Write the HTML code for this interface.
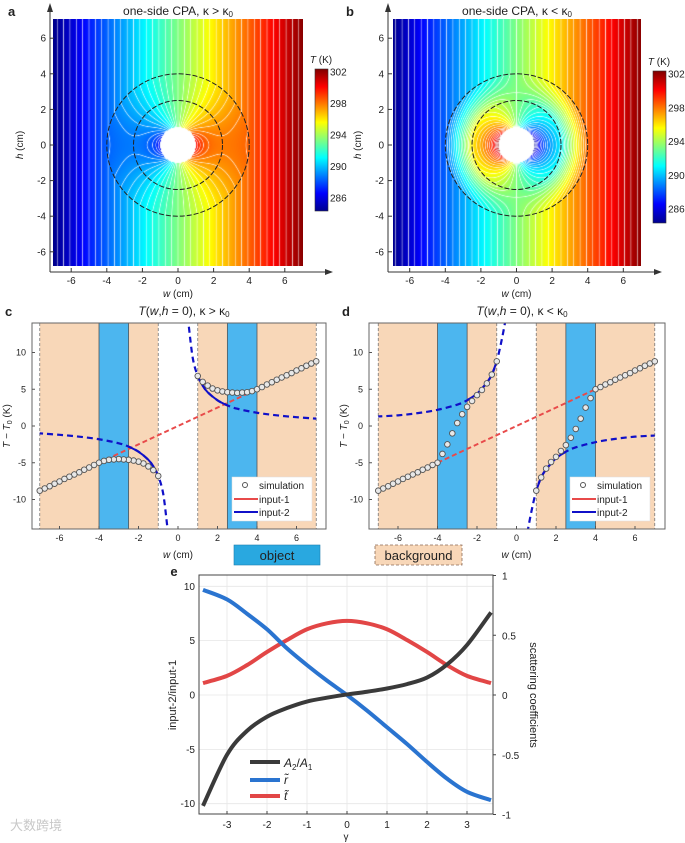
<!DOCTYPE html>
<html><head><meta charset="utf-8"><style>
body{margin:0;background:#fff;width:685px;height:843px;position:relative;overflow:hidden;font-family:"Liberation Sans","Noto Sans CJK SC",sans-serif}
canvas{position:absolute}
svg text{font-family:"Liberation Sans","Noto Sans CJK SC",sans-serif}
</style></head><body>
<canvas id="hmA" width="250" height="247" style="left:53px;top:19px"></canvas>
<canvas id="hmB" width="248" height="247" style="left:393px;top:19px"></canvas>
<svg id="fig" width="685" height="843" style="position:absolute;left:0;top:0">
<defs>
<linearGradient id="jet" x1="0" y1="1" x2="0" y2="0">
<stop offset="0" stop-color="#00008f"/><stop offset="0.125" stop-color="#0000ff"/><stop offset="0.375" stop-color="#00ffff"/><stop offset="0.625" stop-color="#ffff00"/><stop offset="0.875" stop-color="#ff0000"/><stop offset="1" stop-color="#800000"/>
</linearGradient>
</defs>
</svg>
<script>
// ---------- data ----------
const fieldCoefA = [[1.26,0],[0.888,5.95],[0.895,5.9]];
const fieldCoefB = [[1.26,0],[2.734,-23.6],[0.438,-9.24]];
const cbTicks = [302,298,294,290,286];
const mapTicks = [-6,-4,-2,0,2,4,6];
const lineTicksX = [-6,-4,-2,0,2,4,6];
const lineTicksY = [-10,-5,0,5,10];
const simW = [1,1.25,1.5,1.75,2,2.25,2.5,2.75,3,3.25,3.5,3.75,4,4.25,4.5,4.75,5,5.25,5.5,5.75,6,6.25,6.5,6.75,7];
const simC = [6.8,6.0,5.5,5.1,4.85,4.7,4.6,4.55,4.5,4.55,4.6,4.75,5.0,5.3,5.65,5.95,6.3,6.6,6.9,7.2,7.55,7.85,8.2,8.5,8.8];
const simD = [-8.8,-7.0,-5.8,-4.9,-4.2,-3.4,-2.6,-1.6,-0.4,1.0,2.5,3.8,5.0,5.3,5.65,5.95,6.3,6.6,6.9,7.2,7.55,7.85,8.2,8.5,8.8];
const redW = [-7,-4,4,7];
const redV = [-8.8,-5,5,8.8];
const blueW = [0.55,0.75,1,1.25,1.5,2,2.5,3,4,5,6,7];
const blueC = [13.5,9.2,6.8,5.5,4.6,3.5,2.8,2.35,1.8,1.45,1.2,1.0];
const blueD = [-14.5,-11.7,-8.8,-7.0,-5.9,-4.4,-3.5,-2.9,-2.2,-1.75,-1.45,-1.3];
const gam = [-3.6,-3,-2.5,-2,-1.5,-1,-0.5,0,0.5,1,1.5,2,2.5,3,3.6];
const ratioA = [-10.2,-5.5,-3.3,-2.0,-1.2,-0.6,-0.25,0.05,0.3,0.6,1.0,1.6,2.8,4.6,7.6];
const rTil = [0.88,0.8,0.68,0.55,0.39,0.25,0.12,0,-0.13,-0.27,-0.41,-0.56,-0.70,-0.81,-0.88];
const tTil = [0.1,0.16,0.25,0.36,0.46,0.55,0.6,0.62,0.6,0.55,0.46,0.36,0.25,0.16,0.1];
const eTicksX = [-3,-2,-1,0,1,2,3];
const eTicksL = [-10,-5,0,5,10];
const eTicksR = [-1,-0.5,0,0.5,1];

const NS='http://www.w3.org/2000/svg';
const svg=document.getElementById('fig');
function mk(tag,attrs,name,parent){
  const e=document.createElementNS(NS,tag);
  for(const k in attrs)e.setAttribute(k,attrs[k]);
  
  
  (parent||svg).appendChild(e);return e;
}
function txt(x,y,s,name,opt){
  opt=opt||{};
  const t=mk('text',{x:x,y:y,'font-size':opt.fs||10,'text-anchor':opt.a||'middle',fill:opt.fill||'#222'},name,opt.p);
  if(opt.w)t.setAttribute('font-weight',opt.w);
  if(opt.rot)t.setAttribute('transform','rotate('+opt.rot+' '+x+' '+y+')');
  if(opt.html)t.innerHTML=s;else t.textContent=s;
  return t;
}
function smooth(pts){
  let d='M'+pts[0][0]+','+pts[0][1];
  for(let i=0;i<pts.length-1;i++){
    const p0=pts[Math.max(0,i-1)],p1=pts[i],p2=pts[i+1],p3=pts[Math.min(pts.length-1,i+2)];
    d+=' C'+(p1[0]+(p2[0]-p0[0])/6)+','+(p1[1]+(p2[1]-p0[1])/6)+' '+(p2[0]-(p3[0]-p1[0])/6)+','+(p2[1]-(p3[1]-p1[1])/6)+' '+p2[0]+','+p2[1];
  }
  return d;
}
function jet(t){
  t=Math.max(0,Math.min(1,t));
  const c=v=>Math.max(0,Math.min(1,v));
  return [c(1.5-Math.abs(4*t-3))*255,c(1.5-Math.abs(4*t-2))*255,c(1.5-Math.abs(4*t-1))*255];
}
// ---------- heatmaps ----------
function field(coef,w,h){
  const r=Math.hypot(w,h);if(r<1e-6)return 0;
  const c=r>4?coef[0]:(r>2.5?coef[1]:coef[2]);
  return (c[0]*r+c[1]/r)*(w/r);
}
function drawHeat(id,coef,x0,y0,left,top,s){
  const cv=document.getElementById(id),ctx=cv.getContext('2d');
  const W=cv.width,H=cv.height,img=ctx.createImageData(W,H),step=0.45;
  for(let py=0;py<H;py++)for(let px=0;px<W;px++){
    const w=(left+px+0.5-x0)/s,h=(y0-(top+py+0.5))/s,i=(py*W+px)*4;
    if(Math.hypot(w,h)<1){img.data[i]=img.data[i+1]=img.data[i+2]=255;img.data[i+3]=255;continue;}
    const v=field(coef,w,h);
    let col=jet((v+9)/18);
    const gx=(field(coef,w+0.5/s,h)-field(coef,w-0.5/s,h)),gy=(field(coef,w,h+0.5/s)-field(coef,w,h-0.5/s));
    const g=Math.hypot(gx,gy)/step+1e-6,f=v/step,d=Math.abs(f-Math.round(f))/g;
    const a=Math.max(0,Math.min(1,1-d/0.7))*0.85;
    col=col.map(c=>c*(1-a)+255*a);
    img.data[i]=col[0];img.data[i+1]=col[1];img.data[i+2]=col[2];img.data[i+3]=255;
  }
  ctx.putImageData(img,0,0);
}
drawHeat('hmA',fieldCoefA,178,145,53,19,17.8);
drawHeat('hmB',fieldCoefB,516.5,145,393,19,17.8);

function mapPanel(letter,title,x0,axX,axR,cbX,cbTy,left,right){
  const s=17.8,y0=145;
  txt(axX-42,16,letter,'panel-label-'+letter,{fs:13,w:'bold',a:'start'});
  txt((left+right)/2,15,title,'title-'+letter,{fs:12,html:1});
  mk('circle',{cx:x0,cy:y0,r:2.5*s,fill:'none',stroke:'#222','stroke-width':1,'stroke-dasharray':'5 2'},'inner-ring-'+letter);
  mk('circle',{cx:x0,cy:y0,r:4*s,fill:'none',stroke:'#222','stroke-width':1,'stroke-dasharray':'5 2'},'outer-ring-'+letter);
  mk('line',{x1:axX,y1:10,x2:axX,y2:272,stroke:'#333','stroke-width':1},'y-axis-'+letter);
  mk('path',{d:'M'+(axX-3)+',12 L'+axX+',3 L'+(axX+3)+',12Z',fill:'#333'},'y-arrow-'+letter);
  mk('line',{x1:axX,y1:272,x2:axR-6,y2:272,stroke:'#333','stroke-width':1},'x-axis-'+letter);
  mk('path',{d:'M'+(axR-8)+',269 L'+axR+',272 L'+(axR-8)+',275Z',fill:'#333'},'x-arrow-'+letter);
  mapTicks.forEach(t=>{
    const x=x0+t*s,y=y0-t*s;
    mk('line',{x1:x,y1:272,x2:x,y2:268,stroke:'#333'},'x-tick-'+letter);
    txt(x,284,String(t),'x-tick-label-'+letter,{fs:10});
    mk('line',{x1:axX,y1:y,x2:axX+4,y2:y,stroke:'#333'},'y-tick-'+letter);
    txt(axX-4,y+3.5,String(t),'y-tick-label-'+letter,{fs:10,a:'end'});
  });
  txt(x0,297,'<tspan font-style="italic">w</tspan> (cm)','x-axis-title-'+letter,{fs:10,html:1});
  txt(axX-27,145,'<tspan font-style="italic">h</tspan> (cm)','y-axis-title-'+letter,{fs:10,html:1,rot:-90});
  const cbTop=cbTy[0]-3,cbBot=cbTy[1];
  mk('rect',{x:cbX,y:cbTop,width:13,height:cbBot-cbTop,fill:'url(#jet)',stroke:'#333','stroke-width':0.6},'colorbar-'+letter);
  txt(cbX+6,cbTop-6,'<tspan font-style="italic">T</tspan> (K)','colorbar-title-'+letter,{fs:10,html:1});
  cbTicks.forEach((v,i)=>{
    const y=cbTy[0]+(cbTy[2]-cbTy[0])*i/4;
    txt(cbX+15,y+3.5,String(v),'colorbar-tick-'+letter,{fs:10,a:'start'});
  });
}
mapPanel('a','one-side CPA, κ &gt; κ<tspan font-size="8" dy="2">0</tspan>',178,50,333,315,[72,211,198],53,303);
mapPanel('b','one-side CPA, κ &lt; κ<tspan font-size="8" dy="2">0</tspan>',516.5,388,662,653,[74,223,209],393,641);

// ---------- line panels c/d ----------
function linePanel(letter,title,L,R,x0,sim,blue,solidNeg,legX){
  const T=323,B=529,sx=19.75,y=v=>426-v*7.35,x=w=>x0+w*sx;
  const g=mk('g',{},'panel-'+letter);
  const clipId='clip'+letter;
  const cp=mk('clipPath',{id:clipId},'clip-'+letter,g);
  mk('rect',{x:L,y:T,width:R-L,height:B-T},'clip-rect',cp);
  const bands=[[-7,-4,'#f8d7b8'],[-4,-2.5,'#4cb6ef'],[-2.5,-1,'#f8d7b8'],[1,2.5,'#f8d7b8'],[2.5,4,'#4cb6ef'],[4,7,'#f8d7b8']];
  bands.forEach(b=>mk('rect',{x:x(b[0]),y:T,width:x(b[1])-x(b[0]),height:B-T,fill:b[2]},'band',g));
  [-7,-1,1,7].forEach(w=>mk('line',{x1:x(w),y1:T,x2:x(w),y2:B,stroke:'#777','stroke-dasharray':'3 2','stroke-width':0.8},'boundary-line',g));
  [-4,-2.5,2.5,4].forEach(w=>mk('line',{x1:x(w),y1:T,x2:x(w),y2:B,stroke:'#555','stroke-width':0.8},'shell-line',g));
  const cg=mk('g',{'clip-path':'url(#'+clipId+')'},'series-'+letter,g);
  // red input-1
  mk('line',{x1:x(redW[0]),y1:y(redV[0]),x2:x(redW[1]),y2:y(redV[1]),stroke:'#e84a4a','stroke-width':2},'input-1-solid',cg);
  mk('line',{x1:x(redW[1]),y1:y(redV[1]),x2:x(redW[2]),y2:y(redV[2]),stroke:'#e84a4a','stroke-width':2,'stroke-dasharray':'5 3'},'input-1-dashed',cg);
  mk('line',{x1:x(redW[2]),y1:y(redV[2]),x2:x(redW[3]),y2:y(redV[3]),stroke:'#e84a4a','stroke-width':2},'input-1-solid',cg);
  // blue input-2
  [1,-1].forEach(sg=>{
    const pts=blueW.map((w,i)=>[x(sg*w),y(sg*blue[i])]);
    mk('path',{d:smooth(pts),fill:'none',stroke:'#1010c8','stroke-width':2.2,'stroke-dasharray':'6 4'},'input-2-dashed',cg);
    const sp=[];blueW.forEach((w,i)=>{if(w>=1&&w<=2.5)sp.push([x(sg*w),y(sg*blue[i])]);});
    mk('path',{d:smooth(sp),fill:'none',stroke:'#1010c8','stroke-width':2},'input-2-solid',cg);
  });
  // simulation markers
  [1,-1].forEach(sg=>simW.forEach((w,i)=>{
    mk('circle',{cx:x(sg*w),cy:y(sg*sim[i]),r:2.8,fill:'#e8e8e8',stroke:'#555','stroke-width':0.9},'simulation-point',cg);
  }));
  mk('rect',{x:L,y:T,width:R-L,height:B-T,fill:'none',stroke:'#666','stroke-width':1},'plot-frame-'+letter,g);
  lineTicksX.forEach(t=>{
    mk('line',{x1:x(t),y1:B,x2:x(t),y2:B-3,stroke:'#555'},'x-tick',g);
    txt(x(t),541,String(t),'x-tick-label',{fs:9,p:g});
  });
  lineTicksY.forEach(t=>{
    mk('line',{x1:L,y1:y(t),x2:L+3,y2:y(t),stroke:'#555'},'y-tick',g);
    txt(L-6,y(t)+3,String(t),'y-tick-label',{fs:9,a:'end',p:g});
  });
  txt((L+R)/2+5,315,title,'title-'+letter,{fs:12,html:1,p:g});
  txt(L-27,316,letter,'panel-label-'+letter,{fs:13,w:'bold',a:'start',p:g});
  txt(x0,558,'<tspan font-style="italic">w</tspan> (cm)','x-axis-title-'+letter,{fs:10,html:1,p:g});
  txt(L-22,426,'<tspan font-style="italic">T</tspan> − <tspan font-style="italic">T</tspan><tspan font-size="7" dy="2">0</tspan><tspan dy="-2"> (K)</tspan>','y-axis-title-'+letter,{fs:10,html:1,rot:-90,p:g});
  // legend
  const lg=mk('g',{},'legend-'+letter,g);
  mk('rect',{x:legX,y:477,width:80,height:44,fill:'#fff',stroke:'#ddd','stroke-width':0.5},'legend-box',lg);
  mk('circle',{cx:legX+13,cy:485,r:2.5,fill:'#fff',stroke:'#555'},'legend-simulation-marker',lg);
  txt(legX+27,489,'simulation','legend-simulation',{fs:10,a:'start',p:lg});
  mk('line',{x1:legX+2,y1:499,x2:legX+26,y2:499,stroke:'#e84a4a','stroke-width':2},'legend-input-1-line',lg);
  txt(legX+27,503,'input-1','legend-input-1',{fs:10,a:'start',p:lg});
  mk('line',{x1:legX+2,y1:512,x2:legX+26,y2:512,stroke:'#1010c8','stroke-width':2},'legend-input-2-line',lg);
  txt(legX+27,516,'input-2','legend-input-2',{fs:10,a:'start',p:lg});
}
linePanel('c','<tspan font-style="italic">T</tspan>(<tspan font-style="italic">w</tspan>,<tspan font-style="italic">h</tspan> = 0), κ &gt; κ<tspan font-size="8" dy="2">0</tspan>',32,326,178,simC,blueC,false,232);
linePanel('d','<tspan font-style="italic">T</tspan>(<tspan font-style="italic">w</tspan>,<tspan font-style="italic">h</tspan> = 0), κ &lt; κ<tspan font-size="8" dy="2">0</tspan>',369,665,516.5,simD,blueD,false,570);

// object/background labels
mk('rect',{x:234,y:545,width:86,height:20,fill:'#29a8e0',stroke:'#1d7fb0','stroke-width':0.6},'object-legend');
txt(277,560,'object','object-legend-label',{fs:13});
mk('rect',{x:375,y:545,width:87,height:20,fill:'#f8d7b8',stroke:'#8a6a55','stroke-width':0.8,'stroke-dasharray':'3 2'},'background-legend');
txt(418.5,560,'background','background-legend-label',{fs:13});

// ---------- panel e ----------
(function(){
  const L=199,R=493,T=575,B=814,x=g=>347+g*40,yl=v=>695-v*10.87,yr=v=>695-v*119.5;
  const g=mk('g',{},'panel-e');
  eTicksX.forEach(t=>{
    mk('line',{x1:x(t),y1:T,x2:x(t),y2:B,stroke:'#e6e6e6','stroke-width':0.8},'grid-x',g);
    mk('line',{x1:x(t),y1:B,x2:x(t),y2:B-3,stroke:'#444'},'x-tick',g);
    txt(x(t),828,String(t),'x-tick-label',{fs:10,p:g});
  });
  eTicksL.forEach(t=>{
    mk('line',{x1:L,y1:yl(t),x2:R,y2:yl(t),stroke:'#e6e6e6','stroke-width':0.8},'grid-y',g);
    txt(L-4,yl(t)+3.5,String(t),'left-tick-label',{fs:10,a:'end',p:g});
  });
  eTicksR.forEach(t=>{
    mk('line',{x1:R,y1:yr(t),x2:R+3,y2:yr(t),stroke:'#444'},'right-tick',g);
    txt(R+9,yr(t)+4,String(t),'right-tick-label',{fs:10,a:'start',p:g});
  });
  mk('path',{d:smooth(gam.map((v,i)=>[x(v),yr(tTil[i])])),fill:'none',stroke:'#e24646','stroke-width':4},'t-tilde-curve',g);
  mk('path',{d:smooth(gam.map((v,i)=>[x(v),yr(rTil[i])])),fill:'none',stroke:'#2a74d0','stroke-width':4},'r-tilde-curve',g);
  mk('path',{d:smooth(gam.map((v,i)=>[x(v),yl(ratioA[i])])),fill:'none',stroke:'#3a3a3a','stroke-width':4},'a2-a1-curve',g);
  mk('rect',{x:L,y:T,width:R-L,height:B-T,fill:'none',stroke:'#444','stroke-width':1},'plot-frame-e',g);
  txt(174,576,'e','panel-label-e',{fs:13,w:'bold',p:g});
  txt(346,840,'γ','x-axis-title-e',{fs:10,p:g});
  txt(176,695,'input-2/input-1','left-axis-title',{fs:11,rot:-90,p:g});
  txt(530,695,'scattering coefficients','right-axis-title',{fs:11,rot:90,p:g});
  const lg=mk('g',{},'legend-e',g);
  mk('line',{x1:250,y1:762,x2:280,y2:762,stroke:'#3a3a3a','stroke-width':4},'legend-a2a1-line',lg);
  txt(284,767,'<tspan font-style="italic">A</tspan><tspan font-size="8" dy="3">2</tspan><tspan dy="-3">/</tspan><tspan font-style="italic">A</tspan><tspan font-size="8" dy="3">1</tspan>','legend-a2a1',{fs:12,a:'start',html:1,p:lg});
  mk('line',{x1:250,y1:780,x2:280,y2:780,stroke:'#2a74d0','stroke-width':4},'legend-r-line',lg);
  txt(284,784,'r̃','legend-r',{fs:12,a:'start',p:lg}).setAttribute('font-style','italic');
  mk('line',{x1:250,y1:796,x2:280,y2:796,stroke:'#e24646','stroke-width':4},'legend-t-line',lg);
  txt(284,800,'t̃','legend-t',{fs:12,a:'start',p:lg}).setAttribute('font-style','italic');
})();
txt(10,830,'大数跨境','watermark',{fs:13,a:'start',fill:'#c8c8c8'});
</script>
</body></html>
